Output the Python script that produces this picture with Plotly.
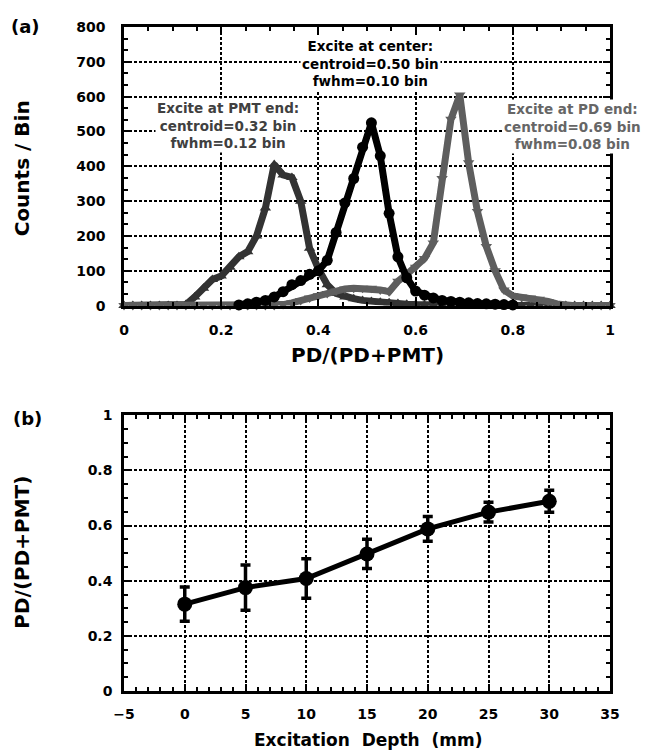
import plotly.graph_objects as go

# ---------------- data ----------------
# histogram bin centres (56 bins across 0..1)
BIN_X = [round(i / 55, 4) for i in range(56)]

PMT_END = [0, 0, 0, 0, 0, 0, 0,
           3, 25, 50, 75, 85, 110, 140, 155, 200, 280, 405, 375, 368, 300,
           165, 105, 60, 35, 25, 20, 15, 12, 10, 8, 6, 4, 3, 2, 1,
           0, 0, 0, 0, 0, 0, 0, 0, 0, 0, 0, 0, 0, 0, 0, 0, 0, 0, 0, 0]

CENTER_START = 13
CENTER = [2, 5, 10, 15, 25, 40, 60, 72, 90, 100, 130, 210, 295, 365, 455,
          525, 430, 265, 140, 80, 42, 30, 22, 15, 12, 10, 8, 6, 5, 4, 3, 2]

PD_END = [0] * 18 + [3, 8, 15, 22, 28, 35, 42, 48, 50, 50, 50, 45, 40, 70, 90,
                     110, 135, 180, 365, 535, 605, 410, 270, 170, 100, 45, 28,
                     25, 22, 18, 12, 5] + [0] * 6

DEPTH = [0, 5, 10, 15, 20, 25, 30]
RATIO = [0.315, 0.375, 0.408, 0.497, 0.588, 0.649, 0.688]
RATIO_ERR = [0.062, 0.082, 0.072, 0.053, 0.045, 0.036, 0.04]

X_TICKS_A = [0, 0.2, 0.4, 0.6, 0.8, 1]
Y_TICKS_A = [0, 100, 200, 300, 400, 500, 600, 700, 800]
X_TICKS_B = [-5, 0, 5, 10, 15, 20, 25, 30, 35]
Y_TICKS_B = [0, 0.2, 0.4, 0.6, 0.8, 1]

LABEL_CENTER = ["Excite at center:", "centroid=0.50 bin", "fwhm=0.10 bin"]
LABEL_PMT = ["Excite at PMT end:", "centroid=0.32 bin", "fwhm=0.12 bin"]
LABEL_PD = ["Excite at PD end:", "centroid=0.69 bin", "fwhm=0.08 bin"]

FONT = "DejaVu Sans, Liberation Sans, Arial, sans-serif"
C_PMT = "#333333"
C_CEN = "#000000"
C_PD = "#5e5e5e"

fig = go.Figure()

fig.add_trace(go.Scatter(
    x=BIN_X, y=PMT_END, mode="lines+markers", xaxis="x", yaxis="y",
    line=dict(color=C_PMT, width=7),
    marker=dict(symbol="triangle-up", size=10, color=C_PMT),
    cliponaxis=False, showlegend=False))
fig.add_trace(go.Scatter(
    x=BIN_X, y=PD_END, mode="lines+markers", xaxis="x", yaxis="y",
    line=dict(color=C_PD, width=7),
    marker=dict(symbol="triangle-down", size=10, color=C_PD),
    cliponaxis=False, showlegend=False))
fig.add_trace(go.Scatter(
    x=BIN_X[CENTER_START:CENTER_START + len(CENTER)], y=CENTER,
    mode="lines+markers", xaxis="x", yaxis="y",
    line=dict(color=C_CEN, width=7),
    marker=dict(symbol="circle", size=11, color=C_CEN),
    cliponaxis=False, showlegend=False))

fig.add_trace(go.Scatter(
    x=DEPTH, y=RATIO, mode="lines+markers", xaxis="x2", yaxis="y2",
    line=dict(color="black", width=5),
    marker=dict(symbol="circle", size=15, color="black"),
    error_y=dict(type="data", array=RATIO_ERR, visible=True, color="black",
                 thickness=3.5, width=5),
    cliponaxis=False, showlegend=False))

axis_common = dict(
    showline=True, linecolor="black", linewidth=2.5, mirror="allticks",
    ticks="inside", ticklen=7, tickwidth=2, tickcolor="black",
    showgrid=True, gridcolor="black", griddash="3px,2px", gridwidth=2,
    zeroline=False, tickfont=dict(family=FONT, size=14, color="black", weight="bold"),
)
minor_common = dict(ticks="inside", ticklen=4, tickwidth=1.5,
                    tickcolor="black", showgrid=False)

top_dom = [0.5804, 1.0]
bot_dom = [0.0, 0.4152]

# page has an 8px body margin: figure is shifted by 8px right/down
fig.update_layout(
    width=649, height=748,
    margin=dict(l=116, r=47, t=11, b=65),
    paper_bgcolor="white", plot_bgcolor="white",
    font=dict(family=FONT, color="black", weight="bold"),
    xaxis=dict(axis_common, domain=[0, 1], anchor="y", range=[0, 1],
               tickvals=X_TICKS_A, ticklabelstandoff=10,
               minor=dict(minor_common, dtick=0.05)),
    yaxis=dict(axis_common, domain=top_dom, anchor="x", range=[0, 800],
               tickvals=Y_TICKS_A, ticklabelstandoff=13,
               minor=dict(minor_common, dtick=100 / 3)),
    xaxis2=dict(axis_common, domain=[0, 1], anchor="y2", range=[-5, 35],
                tickvals=X_TICKS_B, ticklabelstandoff=8,
                minor=dict(minor_common, dtick=1)),
    yaxis2=dict(axis_common, domain=bot_dom, anchor="x2", range=[0, 1],
                tickvals=Y_TICKS_B, ticklabelstandoff=6,
                minor=dict(minor_common, dtick=0.05)),
)


def px_x(px):
    return (px - 124) / 486


def px_y(py):
    return (691 - py) / 672


ann = []
# axis titles
ann.append(dict(text="Counts / Bin", x=px_x(22), y=px_y(162), textangle=-90, size=20))
ann.append(dict(text="PD/(PD+PMT)", x=px_x(367), y=px_y(351), size=20))
ann.append(dict(text="PD/(PD+PMT)", x=px_x(22), y=px_y(551), textangle=-90, size=20))
ann.append(dict(text="Excitation  Depth  (mm)", x=px_x(368), y=px_y(741), size=17))
# panel labels
ann.append(dict(text="(a)", x=px_x(25), y=px_y(18), size=18))
ann.append(dict(text="(b)", x=px_x(27), y=px_y(415), size=18))
# peak annotations
ann.append(dict(text="<br>".join(LABEL_CENTER), x=px_x(370), y=px_y(56), size=13.5,
                bg="white"))
ann.append(dict(text="<br>".join(LABEL_PMT), x=px_x(228), y=px_y(118.5), size=13.5,
                color="#404040", bg="white"))
ann.append(dict(text="<br>".join(LABEL_PD), x=px_x(572), y=px_y(119.5), size=13.5,
                color="#666666", bg="white"))

layout_ann = []
for a in ann:
    d = dict(
        text=a["text"], x=a["x"], y=a["y"], xref="paper", yref="paper",
        showarrow=False, xanchor="center", yanchor="middle", align="center",
        textangle=a.get("textangle", 0),
        font=dict(family=FONT, weight="bold", size=a["size"],
                  color=a.get("color", "black")))
    if "bg" in a:
        d["bgcolor"] = a["bg"]
        d["borderpad"] = 1
    layout_ann.append(d)
fig.update_layout(annotations=layout_ann)

fig.write_html("out.html")
